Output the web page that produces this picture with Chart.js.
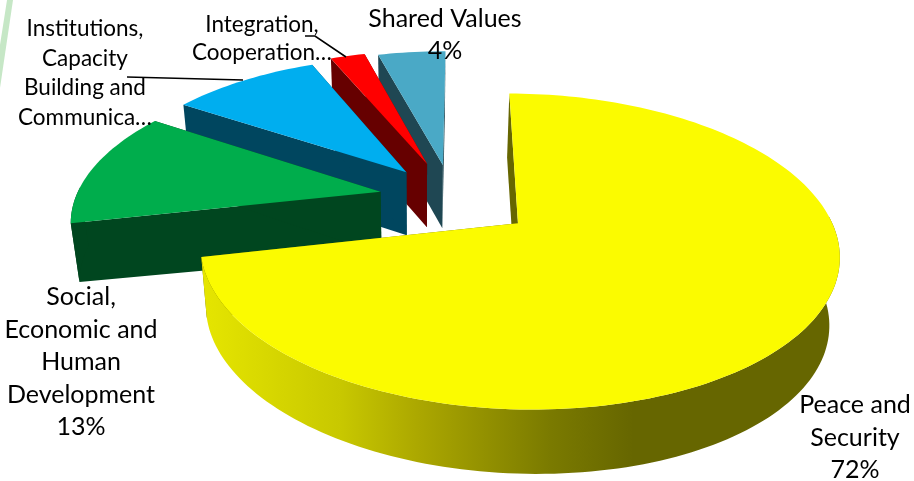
<!DOCTYPE html>
<html>
<head>
<meta charset="utf-8">
<script src="https://cdn.jsdelivr.net/npm/chart.js@4"></script>
<style>
html, body { margin: 0; background: #fff; }
canvas { display: block; }
</style>
</head>
<body>
<canvas id="chartPie" width="914" height="481"></canvas>
<script>
const categories = ['Peace and Security', 'Social, Economic and Human Development', 'Institutions, Capacity Building and Communication', 'Integration, Cooperation', 'Shared Values'];
const values = [71.5, 12.6, 9.4, 2.2, 4.3];
const topColors = ['#fbfb00', '#00ad4c', '#00aeef', '#ff0000', '#4aa9c6'];
const wallColors = ['#666600', '#00461f', '#00465f', '#660000', '#1f4753'];
const explode = [0.27, 0.24, 0.24, 0.26, 0.24];

// 3d view of the pie plane
const view = { cx: 452, cy: 198, rx: 305, ry: 144, k: 0.174, depth: 63, depthSlope: 0.012, vanishX: 420, shrink: 0.975 };

function project(u, v) {
  const s = 1 / (1 - view.k * v);
  return { x: view.cx + view.rx * u * s, y: view.cy + view.ry * v * s };
}
function lower(p) {
  return {
    x: view.vanishX + (p.x - view.vanishX) * view.shrink,
    y: p.y + view.depth + (p.x - view.vanishX) * view.depthSlope
  };
}
function fillPath(ctx, pts, fill) {
  ctx.beginPath();
  pts.forEach((p, i) => i ? ctx.lineTo(p.x, p.y) : ctx.moveTo(p.x, p.y));
  ctx.closePath();
  ctx.fillStyle = fill;
  ctx.fill();
}

const pie3d = {
  id: 'pie3d',
  beforeDatasetDraw(chart) {
    const ctx = chart.ctx;
    const arcs = chart.getDatasetMeta(0).data;
    // side gradient of the big slice
    const sideGrad = ctx.createLinearGradient(200, 0, 838, 0);
    sideGrad.addColorStop(0, '#e6e600');
    sideGrad.addColorStop(0.22, '#c8c800');
    sideGrad.addColorStop(0.34, '#aca800');
    sideGrad.addColorStop(0.55, '#7a7a00');
    sideGrad.addColorStop(0.68, '#666600');
    sideGrad.addColorStop(1, '#666600');

    // back to front: last slice first, big slice on top
    for (let i = arcs.length - 1; i >= 0; i--) {
      const arc = arcs[i];
      const mid = (arc.startAngle + arc.endAngle) / 2;
      const ou = explode[i] * Math.cos(mid);
      const ov = explode[i] * Math.sin(mid);
      const apex = project(ou, ov);
      const rim = [];
      const front = [];
      const steps = Math.max(6, Math.round((arc.endAngle - arc.startAngle) * 40));
      for (let j = 0; j <= steps; j++) {
        const a = arc.startAngle + (arc.endAngle - arc.startAngle) * j / steps;
        const p = project(ou + Math.cos(a), ov + Math.sin(a));
        rim.push(p);
        if (Math.sin(a) > -0.05) front.push(p);
      }
      const first = rim[0];
      const last = rim[rim.length - 1];
      // flat cut faces
      fillPath(ctx, [apex, first, lower(first), lower(apex)], wallColors[i]);
      fillPath(ctx, [apex, last, lower(last), lower(apex)], wallColors[i]);
      // outer wall, only the part facing the viewer
      if (front.length > 1) {
        fillPath(ctx, front.concat(front.map(lower).reverse()), i === 0 ? sideGrad : wallColors[i]);
      }
      // top face
      fillPath(ctx, [apex].concat(rim), topColors[i]);
    }
    return false;
  }
};

const labelFont = '"Lato", sans-serif';
const dataLabels = [
  { lines: ['Peace and', 'Security', '72%'], x: 855, y: 413, gap: 32.5, size: 25 },
  { lines: ['Social,', 'Economic and', 'Human', 'Development', '13%'], x: 81, y: 305, gap: 32.5, size: 25 },
  { lines: ['Institutions,', 'Capacity', 'Building and', 'Communica\u2026'], x: 85, y: 36, gap: 29.5, size: 22.5 },
  { lines: ['Integration,', 'Cooperation\u2026'], x: 262, y: 32, gap: 27.5, size: 22.5 },
  { lines: ['Shared Values', '4%'], x: 445, y: 27, gap: 32, size: 25 }
];
const leaders = [
  [[127, 77], [243, 80]],
  [[305, 36], [315, 36], [346, 57]]
];

const decoration = {
  id: 'decoration',
  beforeDraw(chart) {
    fillPath(chart.ctx, [{ x: 7, y: 0 }, { x: 13, y: 0 }, { x: 0, y: 88 }, { x: 0, y: 45 }], '#c6e7c6');
  },
  afterDraw(chart) {
    const ctx = chart.ctx;
    ctx.strokeStyle = '#000';
    ctx.lineWidth = 1.6;
    leaders.forEach(line => {
      ctx.beginPath();
      line.forEach((p, i) => i ? ctx.lineTo(p[0], p[1]) : ctx.moveTo(p[0], p[1]));
      ctx.stroke();
    });
    ctx.fillStyle = '#000';
    ctx.textAlign = 'center';
    ctx.textBaseline = 'alphabetic';
    dataLabels.forEach(l => {
      ctx.font = l.size + 'px ' + labelFont;
      l.lines.forEach((t, i) => ctx.fillText(t, l.x, l.y + i * l.gap));
    });
  }
};

new Chart(document.getElementById('chartPie').getContext('2d'), {
  type: 'pie',
  data: {
    labels: categories,
    datasets: [{ data: values, backgroundColor: topColors, borderWidth: 0 }]
  },
  options: {
    responsive: false,
    animation: false,
    rotation: 0.3,
    plugins: { legend: { display: false }, tooltip: { enabled: false } }
  },
  plugins: [pie3d, decoration]
});
</script>
</body>
</html>
